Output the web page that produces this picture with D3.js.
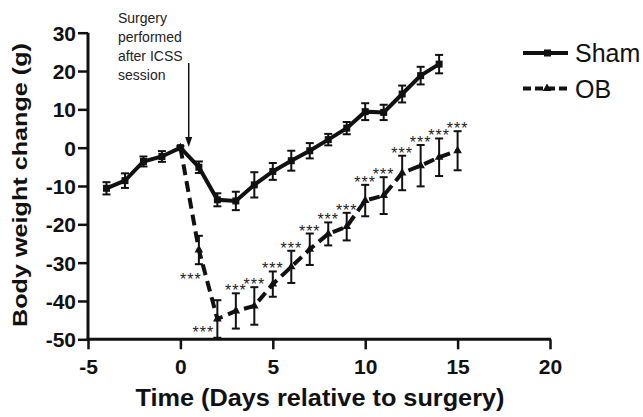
<!DOCTYPE html>
<html>
<head>
<meta charset="utf-8">
<script src="https://cdn.jsdelivr.net/npm/d3@7"></script>
<style>
  body { margin: 0; background: #fff; }
  svg { font-family: "Liberation Sans", Arial, Helvetica, sans-serif; }
  .tick text { font-weight: bold; font-size: 21px; fill: #111; }
</style>
</head>
<body>
<svg width="643" height="417"></svg>
<script>
// data
const shamDays = [-4, -3, -2, -1, 0, 1, 2, 3, 4, 5, 6, 7, 8, 9, 10, 11, 12, 13, 14];
const shamMean = [-10.6, -8.6, -3.6, -2.3, 0, -5.1, -13.6, -13.9, -9.7, -6.2, -3.4, -0.8, 2.1, 5.1, 9.4, 9.2, 14.0, 18.8, 21.8];
const shamSem  = [1.6, 1.9, 1.3, 1.4, 0.4, 1.5, 1.7, 2.4, 3.3, 2.2, 2.6, 2.0, 1.5, 1.6, 2.2, 2.0, 2.2, 2.3, 2.4];

const obDays = [0, 1, 2, 3, 4, 5, 6, 7, 8, 9, 10, 11, 12, 13, 14, 15];
const obMean = [0, -26.7, -44.7, -42.6, -41.3, -35.6, -31.1, -26.5, -22.5, -20.6, -13.8, -12.5, -6.6, -4.7, -2.5, -0.8];
const obSem  = [0, 3.7, 4.9, 4.6, 4.9, 3.3, 4.2, 4.1, 3.0, 3.6, 4.1, 4.8, 4.5, 5.4, 4.9, 5.1];
// significance marks (*** vs sham) per OB day
const obSig = ["", "***", "***", "***", "***", "***", "***", "***", "***", "***", "***", "***", "***", "***", "***", "***"];

const xTicks = [-5, 0, 5, 10, 15, 20];
const yTicks = [-50, -40, -30, -20, -10, 0, 10, 20, 30];

const svg = d3.select("svg");

const x = d3.scaleLinear().domain([-5, 20]).range([88, 550]);
const y = d3.scaleLinear().domain([-50, 30]).range([339.3, 32.7]);

const ink = "#111";

// axes (plain hyphen minus like the original)
const fmt = d => String(d);
const xAxisG = svg.append("g")
  .attr("transform", `translate(0,${y(-50)})`)
  .call(d3.axisBottom(x).tickValues(xTicks).tickSize(10).tickPadding(5).tickFormat(fmt));
const yAxisG = svg.append("g")
  .attr("transform", `translate(${x(-5)},0)`)
  .call(d3.axisLeft(y).tickValues(yTicks).tickSize(10).tickPadding(2).tickFormat(fmt));

[xAxisG, yAxisG].forEach(g => {
  g.select(".domain").attr("stroke", ink).attr("stroke-width", 3)
    .attr("d", g === xAxisG ? `M${x(-5) - 1.5},0H${x(20) + 1}` : `M0,${y(30)}V${y(-50) + 1.5}`);
  g.selectAll(".tick line").attr("stroke", ink).attr("stroke-width", 2.5);
  g.selectAll(".tick text").attr("fill", ink);
});
xAxisG.selectAll(".tick text").attr("dy", "0.95em");
yAxisG.selectAll(".tick text").attr("dy", "0.36em");

// axis titles
svg.append("text")
  .attr("x", 320).attr("y", 406)
  .attr("text-anchor", "middle")
  .attr("font-weight", "bold").attr("font-size", 23)
  .attr("textLength", 369).attr("lengthAdjust", "spacingAndGlyphs")
  .attr("fill", ink)
  .text("Time (Days relative to surgery)");

svg.append("text")
  .attr("transform", "translate(27,185) rotate(-90)")
  .attr("text-anchor", "middle")
  .attr("font-weight", "bold").attr("font-size", 21)
  .attr("textLength", 284).attr("lengthAdjust", "spacingAndGlyphs")
  .attr("fill", ink)
  .text("Body weight change (g)");

// series tables
const sham = shamDays.map((d, i) => ({ day: d, mean: shamMean[i], sem: shamSem[i] }));
const ob = obDays.map((d, i) => ({ day: d, mean: obMean[i], sem: obSem[i], sig: obSig[i] }));

const line = d3.line().x(d => x(d.day)).y(d => y(d.mean));

function errorBars(data, cls) {
  const g = svg.append("g").attr("class", cls)
    .attr("stroke", ink).attr("stroke-width", 2).attr("fill", "none");
  const e = g.selectAll("g").data(data.filter(d => d.sem > 0)).enter().append("g");
  e.append("line")
    .attr("x1", d => x(d.day)).attr("x2", d => x(d.day))
    .attr("y1", d => y(d.mean + d.sem)).attr("y2", d => y(d.mean - d.sem));
  e.append("line")
    .attr("x1", d => x(d.day) - 4).attr("x2", d => x(d.day) + 4)
    .attr("y1", d => y(d.mean + d.sem)).attr("y2", d => y(d.mean + d.sem));
  e.append("line")
    .attr("x1", d => x(d.day) - 4).attr("x2", d => x(d.day) + 4)
    .attr("y1", d => y(d.mean - d.sem)).attr("y2", d => y(d.mean - d.sem));
}

errorBars(ob, "ob-err");
errorBars(sham, "sham-err");

// OB dashed line
svg.append("path").datum(ob)
  .attr("d", line)
  .attr("fill", "none").attr("stroke", ink)
  .attr("stroke-width", 4).attr("stroke-dasharray", "11,6");

// Sham solid line
svg.append("path").datum(sham)
  .attr("d", line)
  .attr("fill", "none").attr("stroke", ink)
  .attr("stroke-width", 4);

// markers
const tri = d3.symbol().type(d3.symbolTriangle).size(32);
svg.append("g").selectAll("path").data(ob).enter().append("path")
  .attr("d", tri)
  .attr("transform", d => `translate(${x(d.day)},${y(d.mean)})`)
  .attr("fill", ink);

svg.append("g").selectAll("rect").data(sham).enter().append("rect")
  .attr("x", d => x(d.day) - 3.5).attr("y", d => y(d.mean) - 3.5)
  .attr("width", 7).attr("height", 7)
  .attr("fill", ink);

// significance stars (first two sit left of the falling segment)
svg.append("g").selectAll("text").data(ob.filter(d => d.sig)).enter().append("text")
  .attr("x", (d, i) => i === 0 ? x(d.day) - 8 : i === 1 ? x(d.day) - 14 : x(d.day))
  .attr("y", (d, i) => i === 0 ? y(d.mean - d.sem) + 21 : i === 1 ? y(d.mean) + 19 : y(d.mean + d.sem) + 3)
  .attr("text-anchor", "middle")
  .attr("font-size", 16).attr("letter-spacing", 1)
  .attr("fill", "#222")
  .text(d => d.sig);

// surgery annotation
const note = svg.append("text")
  .attr("font-size", 14).attr("fill", "#222");
["Surgery", "performed", "after ICSS", "session"].forEach((t, i) => {
  note.append("tspan").attr("x", 118).attr("y", 22.5 + i * 19).text(t);
});
const ax = x(0.45);
svg.append("line")
  .attr("x1", ax).attr("x2", ax).attr("y1", 63).attr("y2", 140)
  .attr("stroke", ink).attr("stroke-width", 1.5);
svg.append("path")
  .attr("d", `M${ax - 3.5},${137}L${ax + 3.5},${137}L${ax},${147}Z`)
  .attr("fill", ink);

// legend
const legend = [
  { name: "Sham", dash: null, y: 53, mark: "square" },
  { name: "OB", dash: "8,4", y: 88.5, mark: "triangle" }
];
const lg = svg.append("g");
legend.forEach(l => {
  lg.append("line")
    .attr("x1", 523).attr("x2", 568).attr("y1", l.y).attr("y2", l.y)
    .attr("stroke", ink).attr("stroke-width", 4)
    .attr("stroke-dasharray", l.dash);
  if (l.mark === "square") {
    lg.append("rect").attr("x", 544).attr("y", l.y - 3.5).attr("width", 7).attr("height", 7).attr("fill", ink);
  } else {
    lg.append("path").attr("d", tri).attr("transform", `translate(547,${l.y})`).attr("fill", ink);
  }
  lg.append("text")
    .attr("x", 575).attr("y", l.y + 9)
    .attr("font-size", 25).attr("fill", ink)
    .text(l.name);
});
</script>
</body>
</html>
